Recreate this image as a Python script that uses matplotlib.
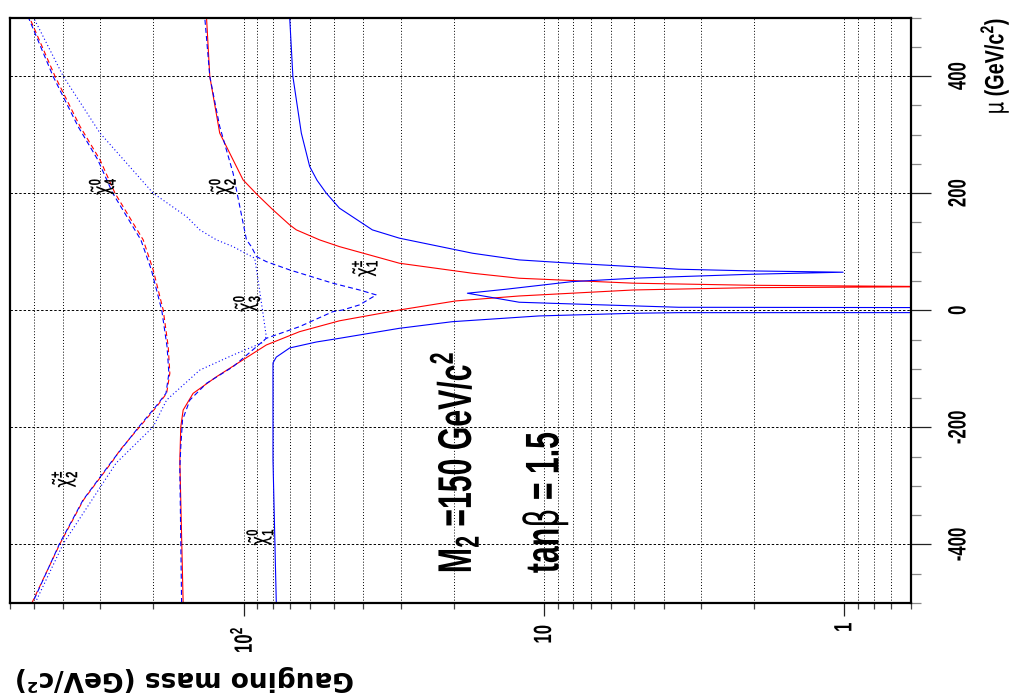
import matplotlib
matplotlib.use('Agg')
import matplotlib.pyplot as plt
from matplotlib.ticker import FixedLocator, FixedFormatter, NullFormatter
from matplotlib.patheffects import AbstractPathEffect
from matplotlib.transforms import Affine2D

# ---- mass eigenvalues (GeV/c^2) against mu (GeV/c^2), M2 = 150, tan(beta) = 1.5 ----
# lightest neutralino
chi10_mu = [-500, -256, -90, -80, -64.4, -54.2, -47.9, -30.8, -19.5, -9.7, -5.1, -4.1, -4.0,
            4.4, 5.1, 10.8, 13.7, 29.1, 35.9, 48.9, 54.7, 57.4, 61.5, 65.0, 67.2, 70.1, 71.8,
            80.3, 86.0, 97.4, 123.1, 137.3, 148.7, 174.4, 200, 222, 245.5, 302.6, 399.3, 500]
chi10_m = [77.9, 79.9, 79.9, 77.9, 70.3, 57.3, 48.0, 30.3, 20.2, 10.4, 5.0, 3.56, 0.3,
           0.3, 3.56, 8.07, 12.1, 18.0, 13.4, 8.07, 5.02, 3.56, 2.04, 1.01, 2.04, 3.56, 4.05,
           8.07, 12.1, 17.3, 30.3, 37.3, 40.3, 48.0, 53.1, 57.0, 60.3, 64.3, 68.6, 70.3]

# second neutralino
chi20_mu = [-500, -269.6, -233.2, -187.5, -153.3, -124.8, -96.4, -47.9, -28.0, -2.4, 0.5,
            9.1, 26.2, 34.7, 46.2, 68.9, 83.1, 91.6, 108.7, 120.2, 234.2, 313.8, 399.3, 500]
chi20_m = [161.0, 163.2, 162.0, 159.9, 151.1, 133.0, 108.5, 84.1, 65.2, 50.5, 46.8,
           41.2, 36.2, 41.2, 50.5, 70.3, 84.1, 90.7, 94.3, 97.9, 108.5, 120.2, 129.7, 134.8]

# third neutralino
chi30_mu = [-500, -398.3, -261.0, -199.0, -153.3, -102.1, -76.4, -55.0, -45.0, -5.1, 51.8,
            88.9, 108.7, 120.2, 137.3, 160, 200, 302.6, 399.3, 500]
chi30_m = [494.9, 398.5, 266.0, 200.2, 180.6, 140.0, 108.5, 86.3, 84.1, 86.3, 89.6,
           91.9, 108.5, 123.2, 140.0, 155.0, 200.2, 300.9, 398.5, 501.0]

# heaviest neutralino
chi40_mu = [-500, -398.3, -324.3, -255.9, -198.5, -164.8, -141.9, -107.7, -62.2, 0.5,
            69.0, 120.2, 200, 256.9, 313.8, 399.3, 500]
chi40_m = [505.0, 410.0, 343.0, 273.0, 223.0, 196.5, 181.5, 177.5, 180.0, 187.5,
           203.0, 220.0, 273.0, 306.0, 356.0, 431.0, 521.0]

# lighter chargino
chi1p_mu = [-500, -256, -199, -170.4, -141.9, -113.5, -59.3, -36.6, -18.0, 0.5, 15.9, 24.4,
            34.7, 38.6, 40.3, 42.7, 46.2, 54.7, 63.2, 80.3, 108.7, 120.2, 137.3, 145.8,
            171.5, 197, 222.7, 256.9, 302.6, 399.3, 500]
chi1p_m = [159.1, 163.2, 162.0, 159.1, 147.4, 123.2, 84.1, 65.2, 48.0, 30.3, 19.7, 12.1,
           5.02, 2.04, 0.45, 2.04, 5.02, 12.1, 17.3, 30.3, 48.0, 55.9, 66.8, 70.3,
           79.9, 90.0, 100.5, 108.5, 120.2, 129.7, 133.0]

# heavier chargino
chi2p_mu = [-500, -398.3, -324.3, -255.9, -238.8, -198.5, -164.8, -141.9, -107.7, -62.2,
            0.5, 69.0, 120.2, 200, 256.9, 313.8, 399.3, 500]
chi2p_m = [507.4, 408.6, 341.9, 271.8, 258.2, 221.6, 195.0, 180.6, 176.2, 178.4,
           185.4, 200.2, 216.1, 268.3, 300.9, 350.6, 424.6, 516.8]

mass_major = [1, 10, 100]
mass_major_labels = ['1', '10', r'$10^{2}$']
mass_minor = [0.6, 0.7, 0.8, 0.9, 2, 3, 4, 5, 6, 7, 8, 9, 20, 30, 40, 50, 60, 70, 80, 90,
              200, 300, 400, 500, 600]
mu_major = [-400, -200, 0, 200, 400]
mu_minor = list(range(-500, 501, 50))

# curve labels: (text, mass, mu)
curve_labels = [
    (r'$\tilde{\chi}^0_4$', 296, 212),
    (r'$\tilde{\chi}^0_2$', 118, 212),
    (r'$\tilde{\chi}^0_3$', 98, 12),
    (r'$\tilde{\chi}^{\pm}_1$', 39.6, 72),
    (r'$\tilde{\chi}^{\pm}_2$', 396, -288),
    (r'$\tilde{\chi}^0_1$', 88.5, -387),
]


class Squeeze(AbstractPathEffect):
    """Compress glyphs along the writing direction (narrow lettering)."""

    def __init__(self, sx, centre=False):
        super().__init__()
        self.sx = sx
        self.centre = centre

    def draw_path(self, renderer, gc, tpath, affine, rgbFace=None):
        cx = 0.0
        if self.centre:
            ext = tpath.get_extents()
            cx = 0.5 * (ext.x0 + ext.x1)
        sq = Affine2D().translate(-cx, 0).scale(self.sx, 1.0).translate(cx, 0)
        renderer.draw_path(gc, tpath, sq + affine, rgbFace)


plt.rcParams['font.family'] = ['Liberation Sans', 'DejaVu Sans']
plt.rcParams['font.weight'] = 'bold'
plt.rcParams['mathtext.fontset'] = 'custom'
plt.rcParams['mathtext.rm'] = 'Liberation Sans:bold'
plt.rcParams['mathtext.bf'] = 'Liberation Sans:bold'
plt.rcParams['mathtext.it'] = 'DejaVu Sans:weight=normal'

fig = plt.figure(figsize=(10.21, 6.98), dpi=100)
ax = fig.add_axes([0.0098, 0.1361, 0.8825, 0.8388])

lw = 0.8
dash = (0, (4.5, 2.8))
ax.plot(chi1p_m, chi1p_mu, color='red', lw=lw)
ax.plot(chi2p_m, chi2p_mu, color='red', lw=lw, ls=dash)
ax.plot(chi10_m, chi10_mu, color='blue', lw=lw)
ax.plot(chi20_m, chi20_mu, color='blue', lw=lw, ls=dash)
ax.plot(chi30_m, chi30_mu, color='blue', lw=lw, ls=(0, (1, 2.2)))
ax.plot(chi40_m, chi40_mu, color='blue', lw=lw, ls=(3.5, (4.5, 2.8)))

ax.set_xscale('log')
ax.set_xlim(600, 0.6)
ax.set_ylim(-500, 500)

ax.xaxis.set_major_locator(FixedLocator(mass_major))
ax.xaxis.set_major_formatter(FixedFormatter(mass_major_labels))
ax.xaxis.set_minor_locator(FixedLocator(mass_minor))
ax.xaxis.set_minor_formatter(NullFormatter())

ax.yaxis.tick_right()
ax.set_yticks(mu_major)
ax.set_yticks(mu_minor, minor=True)
ax.set_yticklabels([str(v) for v in mu_major])

ax.tick_params(axis='y', which='major', direction='out', length=14.5, width=0.9,
               color='#222222', pad=11, labelsize=18, labelrotation=90,
               right=True, left=False)
ax.tick_params(axis='y', which='minor', direction='out', length=7.2, width=0.9,
               color='#888888', right=True, left=False)
ax.tick_params(axis='x', which='major', direction='out', length=9.5, width=0.9,
               color='#222222', pad=3, labelsize=18, labelrotation=90, top=False)
ax.tick_params(axis='x', which='minor', direction='out', length=4.5, width=0.9,
               color='#444444', top=False)
for lab in ax.get_yticklabels():
    lab.set_verticalalignment('center')

ax.grid(True, which='both', axis='x', color='black', lw=0.7, ls=(0, (1, 2)))
ax.grid(True, which='major', axis='y', color='black', lw=0.7, ls=(0, (2.5, 2)))
ax.set_axisbelow(True)
for s in ax.spines.values():
    s.set_linewidth(1.6)

for txt, m, mu in curve_labels:
    ax.text(m, mu, txt, rotation=90, ha='center', va='center', fontsize=17,
            path_effects=[Squeeze(0.7, centre=True)])

ax.text(0.494, 0.051, r'M$_{2}$ =150 GeV/c$^{2}$', transform=ax.transAxes,
        rotation=90, rotation_mode='anchor', ha='left', va='center', fontsize=34,
        path_effects=[Squeeze(0.64)])
ax.text(0.595, 0.051, r'tan$\beta$ = 1.5', transform=ax.transAxes,
        rotation=90, rotation_mode='anchor', ha='left', va='center', fontsize=34,
        path_effects=[Squeeze(0.64)])

fig.text(0.9745, 0.905, r'$\mu$ (GeV/c$^{2}$)', rotation=90, ha='center', va='center',
         fontsize=19, path_effects=[Squeeze(0.75, centre=True)])
fig.text(0.181, 0.029, 'Gaugino mass (GeV/c²)', rotation=180, ha='center', va='center',
         fontsize=19, family='DejaVu Sans', weight='bold')

# narrow tick numbers, applied once the tick artists exist
fig.canvas.draw()
for lab in ax.get_xticklabels() + ax.get_yticklabels():
    lab.set_path_effects([Squeeze(0.67, centre=True)])

fig.savefig('out.png', dpi=100)
